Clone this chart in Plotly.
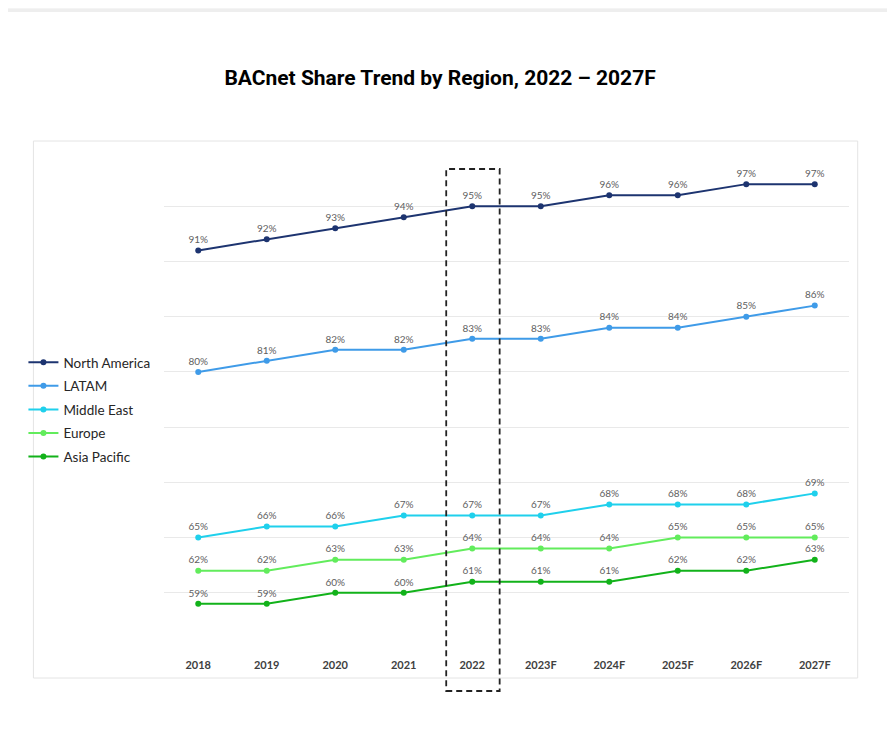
import plotly.graph_objects as go

years = ["2018", "2019", "2020", "2021", "2022", "2023F", "2024F", "2025F", "2026F", "2027F"]
north_america = [91, 92, 93, 94, 95, 95, 96, 96, 97, 97]
latam = [80, 81, 82, 82, 83, 83, 84, 84, 85, 86]
middle_east = [65, 66, 66, 67, 67, 67, 68, 68, 68, 69]
europe = [62, 62, 63, 63, 64, 64, 64, 65, 65, 65]
asia_pacific = [59, 59, 60, 60, 61, 61, 61, 62, 62, 63]

series = [
    ("North America", north_america, "#1d3470"),
    ("LATAM", latam, "#3f9be8"),
    ("Middle East", middle_east, "#1fd0ec"),
    ("Europe", europe, "#62ec5c"),
    ("Asia Pacific", asia_pacific, "#12b21a"),
]

OFF = 8  # page body margin
W, H = 895 - OFF, 744 - OFF
# plot area in screen pixels: x 163.7..849.3, y 151..648
L = 163.7 - OFF
R = W - (849.3 - OFF)
T = 151 - OFF
B = H - (648 - OFF)
pw, ph = W - L - R, H - T - B

def px(x):
    return (x - OFF - L) / pw

def py(y):
    return (H - B - (y - OFF)) / ph

fig = go.Figure()
for i, (name, vals, col) in enumerate(series):
    fig.add_trace(go.Scatter(
        x=years, y=vals, name=name, mode="lines+markers+text",
        line=dict(color=col, width=2), marker=dict(color=col, size=6),
        text=[f"{v}%" for v in vals], textposition="top center",
        textfont=dict(family="Lato, Open Sans, sans-serif", size=10, color="#606060"),
        legendgroup=f"g{i}", hoverinfo="skip", cliponaxis=False,
    ))

shapes = [
    # card shadow + card
    dict(type="rect", xref="paper", yref="paper", x0=px(3), x1=px(W + 40), y0=py(H + 40), y1=py(9),
         fillcolor="#eeeeee", line=dict(width=0), layer="below"),
    dict(type="rect", xref="paper", yref="paper", x0=px(6), x1=px(W + 40), y0=py(H + 40), y1=py(12),
         fillcolor="#ffffff", line=dict(width=0), layer="below"),
    # inner chart frame
    dict(type="rect", xref="paper", yref="paper", x0=px(33), x1=px(858), y0=py(678), y1=py(141),
         fillcolor="rgba(0,0,0,0)", line=dict(color="#e4e4e4", width=1), layer="below"),
    # dashed highlight around 2022
    dict(type="rect", xref="x", yref="paper", x0=3.62, x1=4.40, y0=py(691), y1=py(169),
         fillcolor="rgba(0,0,0,0)", line=dict(color="#222222", width=1.8, dash="6px,4px"), layer="above"),
]

fig.update_layout(
    width=W, height=H,
    margin=dict(l=L, r=R, t=T, b=B),
    paper_bgcolor="#f4f4f4", plot_bgcolor="rgba(0,0,0,0)",
    shapes=shapes,
    title=dict(text="BACnet Share Trend by Region, 2022 – 2027F", xref="paper", x=px(440), xanchor="center",
               yref="container", y=1 - (78 - OFF) / H, yanchor="middle",
               font=dict(family="Roboto, sans-serif", size=21, color="#000000", weight="bold")),
    showlegend=True,
    legend=dict(x=px(23), xanchor="left", y=py(347), yanchor="top", traceorder="grouped",
                tracegroupgap=3, itemwidth=30, bgcolor="rgba(0,0,0,0)",
                font=dict(family="Lato, Open Sans, sans-serif", size=13.5, color="#262626")),
    xaxis=dict(type="category", range=[-0.5, 9.5], showgrid=False, zeroline=False, showline=False,
               ticks="", ticklabelstandoff=9,
               tickfont=dict(family="Lato, Open Sans, sans-serif", size=11, color="#404040", weight="bold"),
               fixedrange=True),
    yaxis=dict(range=[55, 100], dtick=5, showgrid=True, gridcolor="#e9e9e9", gridwidth=1,
               showticklabels=False, zeroline=False, showline=False, fixedrange=True),
)

fig.write_html("out.html", config={"displayModeBar": False})
